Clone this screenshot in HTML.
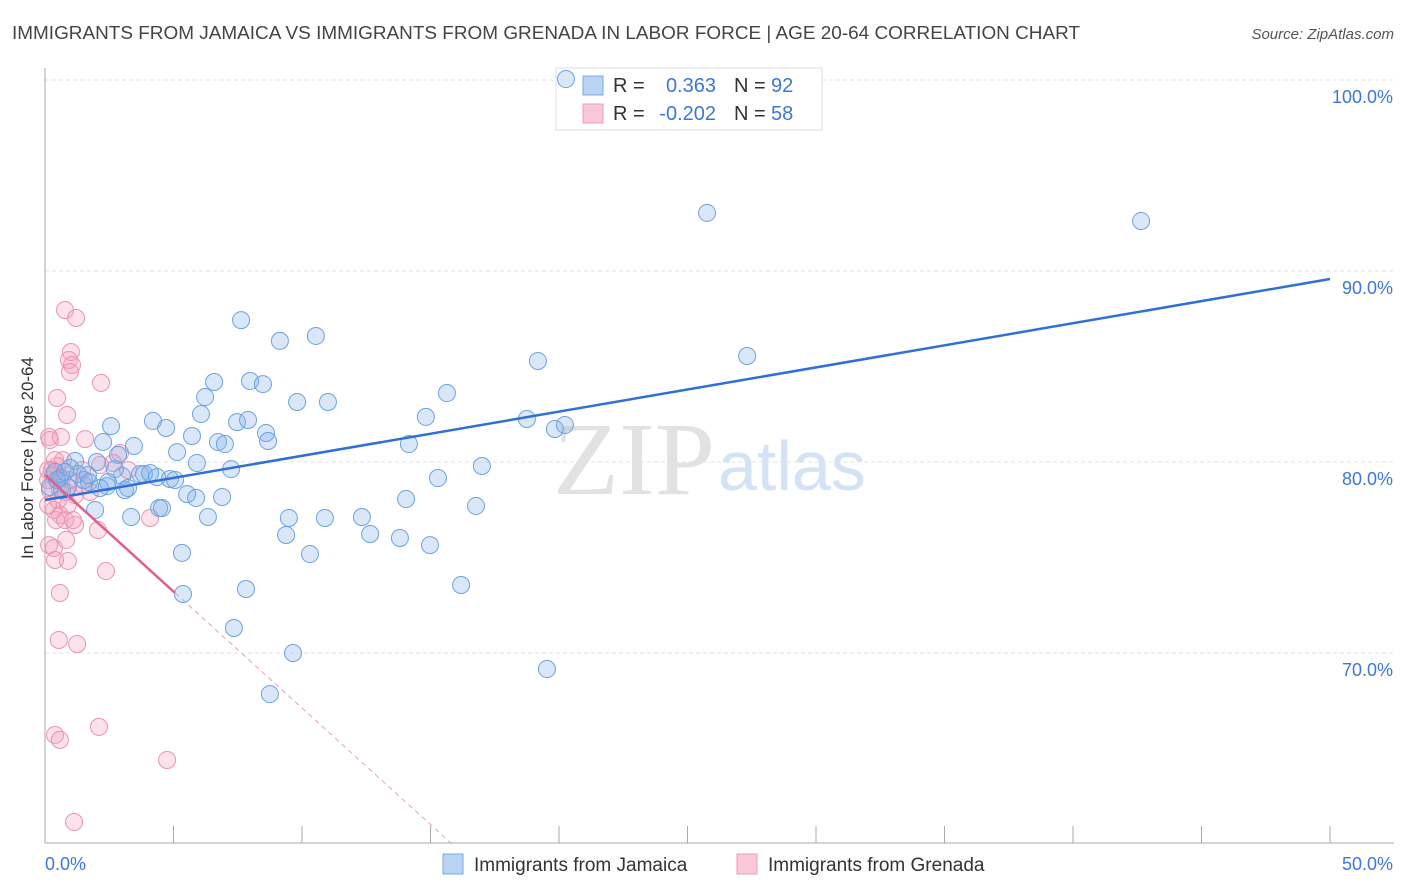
<!DOCTYPE html>
<html><head><meta charset="utf-8"><style>
body{margin:0;background:#fff;font-family:"Liberation Sans",sans-serif;}
#wrap{position:relative;width:1406px;height:892px;overflow:hidden;}
</style></head><body>
<div id="wrap">
<svg id="chart" width="1406" height="892" xmlns="http://www.w3.org/2000/svg">
<text x="12" y="39" font-size="18" fill="#444" textLength="1068" lengthAdjust="spacingAndGlyphs">IMMIGRANTS FROM JAMAICA VS IMMIGRANTS FROM GRENADA IN LABOR FORCE | AGE 20-64 CORRELATION CHART</text>
<text x="1394" y="39" font-size="15" fill="#555" font-style="italic" text-anchor="end">Source: ZipAtlas.com</text>
<text x="553" y="494" font-size="104" fill="#e2e2e2" font-family="Liberation Serif,serif" textLength="162" lengthAdjust="spacingAndGlyphs">ZIP</text>
<text x="718" y="490" font-size="70" fill="#d3e2f5">atlas</text>
<g id="grid"></g>
<g id="axes"></g>
<g>
<rect x="556" y="68" width="266" height="62" fill="#fff" stroke="#ddd"/>
<rect x="583" y="76" width="20" height="19" fill="#b9d3f3" stroke="#7aa9e6"/>
<rect x="583" y="104" width="20" height="19" fill="#f9c8d6" stroke="#ef9cb5"/>
<text x="613" y="92" font-size="20" fill="#333">R = </text><text x="716" y="92" font-size="20" fill="#3b78d8" text-anchor="end">0.363</text>
<text x="734" y="92" font-size="20" fill="#333">N = </text><text x="771" y="92" font-size="20" fill="#3b78d8">92</text>
<text x="613" y="120" font-size="20" fill="#333">R = </text><text x="716" y="120" font-size="20" fill="#3b78d8" text-anchor="end">-0.202</text>
<text x="734" y="120" font-size="20" fill="#333">N = </text><text x="771" y="120" font-size="20" fill="#3b78d8">58</text>
</g>
<g id="pinkpts"></g>
<g id="bluepts"></g>
<g id="lines"></g>
<text transform="translate(33,458) rotate(-90)" font-size="17" fill="#333" text-anchor="middle">In Labor Force | Age 20-64</text>
<g>
<rect x="443" y="854" width="20" height="20" fill="#b9d3f3" stroke="#7aa9e6"/>
<text x="474" y="871" font-size="19" fill="#333">Immigrants from Jamaica</text></g>
<g>
<rect x="737" y="854" width="20" height="20" fill="#f9c8d6" stroke="#ef9cb5"/>
<text x="768" y="871" font-size="19" fill="#333">Immigrants from Grenada</text></g>
</svg>
</div>
<script>
const blueX=[20.27,25.76,42.65,7.63,9.14,10.54,19.18,27.32,6.58,7.98,8.48,6.23,9.81,11.01,15.64,4.20,4.71,6.07,7.47,7.90,14.82,18.75,19.84,20.23,2.57,3.46,5.72,6.73,7.00,8.60,8.68,14.16,2.26,1.17,2.02,2.84,5.14,5.91,7.24,15.29,17.00,0.39,0.58,1.28,1.52,1.71,2.41,3.00,3.70,3.85,4.09,4.36,4.86,5.06,3.23,3.11,0.89,0.66,0.19,5.53,5.88,6.89,14.05,16.77,1.95,3.35,4.44,4.55,6.34,9.49,10.89,12.33,9.38,12.65,13.81,14.98,5.33,10.31,7.82,16.19,5.37,7.35,9.65,19.53,8.75,2.45,0.47,0.97,0.78,1.67,2.72,2.14];
const blueY=[100.05,93.04,92.62,87.43,86.34,86.60,85.29,85.55,84.19,84.24,84.08,83.40,83.14,83.14,83.61,82.15,81.78,82.51,82.09,82.20,82.36,82.25,81.73,81.94,81.88,80.84,81.36,81.05,80.94,81.52,81.10,80.94,81.05,80.05,80.00,80.37,80.52,79.95,79.63,79.16,79.79,79.48,79.16,79.37,79.06,78.95,78.74,79.27,79.37,79.37,79.42,79.21,79.11,79.06,78.64,78.53,78.69,78.53,78.69,78.32,78.12,78.17,78.06,77.70,77.49,77.12,77.59,77.59,77.12,77.07,77.07,77.12,76.18,76.23,76.02,75.65,75.24,75.18,73.35,73.56,73.09,71.31,70.00,69.16,67.85,78.95,79.06,79.69,79.48,79.32,79.63,78.64];
const pinkX=[0.78,1.21,1.01,0.93,1.05,0.97,2.18,0.47,0.86,0.16,0.19,0.62,1.56,2.92,2.65,0.70,0.39,0.47,0.27,0.12,0.19,0.58,0.82,1.17,1.48,2.14,1.44,0.35,0.58,0.43,0.78,1.17,1.09,2.06,0.16,0.35,0.89,0.39,2.37,0.58,0.54,1.25,4.09,2.10,0.39,0.58,4.75,1.13,0.12,0.31,0.66,0.97,0.51,0.12,0.89,0.82,1.75,3.23];
const pinkY=[87.96,87.54,85.76,85.34,85.08,84.71,84.14,83.35,82.46,81.31,81.15,81.31,81.20,80.47,79.95,80.10,80.10,79.79,79.58,79.06,78.53,78.53,78.43,78.27,78.80,79.84,79.58,77.49,77.23,76.96,76.96,76.70,76.96,76.44,75.65,75.50,74.82,74.87,74.29,73.14,70.68,70.47,77.07,66.13,65.71,65.45,64.40,61.15,79.58,79.32,79.16,79.06,78.01,77.75,77.75,75.92,78.43,79.58];
const blueTrend=[78.01,89.58]; // y at x=0 and x=50
const pinkTrend=[79.32,-1.22]; // intercept, slope
const pinkSolidEnd=5.06;
const yTicks=[100,90,80,70];
const yTickLabels=["100.0%","90.0%","80.0%","70.0%"];
const xTicks=[0,5,10,15,20,25,30,35,40,45,50];

const NS="http://www.w3.org/2000/svg";
const X0=45,X1=1330,Y0=80,PPY=19.1;
function sx(v){return X0+(X1-X0)*v/50;}
function sy(v){return Y0+(100-v)*PPY;}
function mk(tag,attrs,parent){const e=document.createElementNS(NS,tag);for(const k in attrs)e.setAttribute(k,attrs[k]);document.getElementById(parent).appendChild(e);return e;}

yTicks.forEach((t,i)=>{
  const l=mk('line',{x1:X0,x2:1394,y1:sy(t),y2:sy(t),stroke:'#e2e2e2','stroke-dasharray':'4,3'},'grid');
  
  
  const tx=mk('text',{x:1393,y:sy(t)+23,'font-size':18,fill:'#3b78d8','text-anchor':'end'},'axes');
  tx.textContent=yTickLabels[i];
  
  
});
const ax=mk('line',{x1:X0,x2:X0,y1:68,y2:843,stroke:'#aaa'},'axes');


const bx=mk('line',{x1:X0,x2:1394,y1:843,y2:843,stroke:'#aaa'},'axes');


xTicks.forEach(t=>{
  const l=mk('line',{x1:sx(t),x2:sx(t),y1:826,y2:843,stroke:'#aaa'},'axes');
  
  
});
const xl0=mk('text',{x:45,y:870,'font-size':18,fill:'#3b78d8'},'axes');xl0.textContent='0.0%';


const xl1=mk('text',{x:1393,y:870,'font-size':18,fill:'#3b78d8','text-anchor':'end'},'axes');xl1.textContent='50.0%';



pinkX.forEach((v,i)=>{
  const c=mk('circle',{cx:sx(v),cy:sy(pinkY[i]),r:8.5,fill:'rgba(244,160,188,0.3)',stroke:'#ec93b0','stroke-width':1},'pinkpts');
  
  
});
blueX.forEach((v,i)=>{
  const c=mk('circle',{cx:sx(v),cy:sy(blueY[i]),r:8.5,fill:'rgba(130,176,232,0.3)',stroke:'#6aa3e3','stroke-width':1},'bluepts');
  
  
});
const bl=mk('line',{x1:sx(0),y1:sy(blueTrend[0]),x2:sx(50),y2:sy(blueTrend[1]),stroke:'#2f6fd6','stroke-width':2.5},'lines');


const pe=pinkTrend[0]+pinkTrend[1]*pinkSolidEnd;
const pl=mk('line',{x1:sx(0),y1:sy(pinkTrend[0]),x2:sx(pinkSolidEnd),y2:sy(pe),stroke:'#e0608a','stroke-width':2.5},'lines');


const xEnd=(60-pinkTrend[0])/pinkTrend[1];
const pd=mk('line',{x1:sx(pinkSolidEnd),y1:sy(pe),x2:sx(xEnd),y2:sy(60),stroke:'#e9a0b8','stroke-width':1,'stroke-dasharray':'5,4'},'lines');


</script>
</body></html>
